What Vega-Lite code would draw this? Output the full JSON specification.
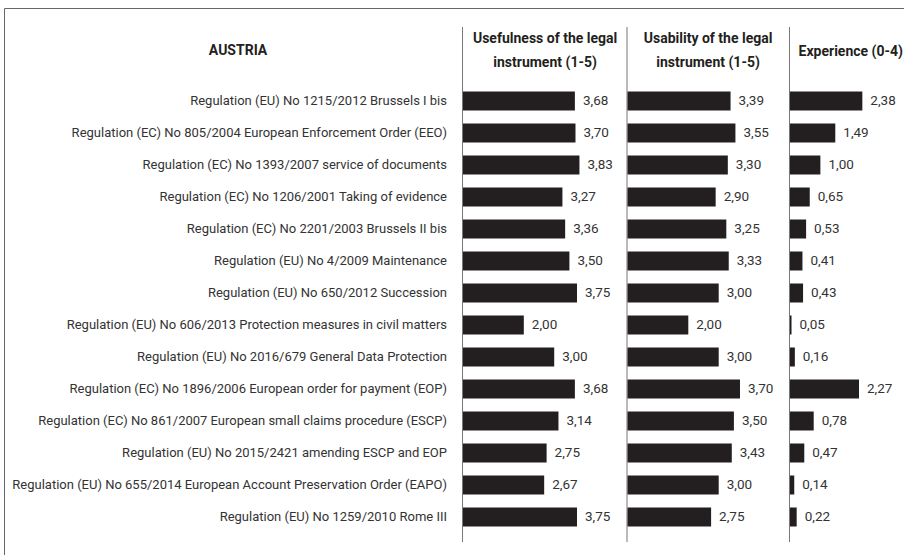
{
  "$schema": "https://vega.github.io/schema/vega-lite/v6.json",
  "autosize": {"type": "none"},
  "width": 912,
  "height": 559,
  "padding": {"left": 4, "top": 8, "right": -12, "bottom": -12},
  "background": "white",
  "config": {
    "view": {"stroke": "#666", "strokeWidth": 1},
    "locale": {"number": {"decimal": ",", "thousands": ".", "grouping": [3], "currency": ["", " €"]}}
  },
  "data": {"values": [
    {"label": "Regulation (EU) No 1215/2012 Brussels I bis", "useful": 3.68, "usable": 3.39, "exp": 2.38},
    {"label": "Regulation (EC) No 805/2004 European Enforcement Order (EEO)", "useful": 3.70, "usable": 3.55, "exp": 1.49},
    {"label": "Regulation (EC) No 1393/2007 service of documents", "useful": 3.83, "usable": 3.30, "exp": 1.00},
    {"label": "Regulation (EC) No 1206/2001 Taking of evidence", "useful": 3.27, "usable": 2.90, "exp": 0.65},
    {"label": "Regulation (EC) No 2201/2003 Brussels II bis", "useful": 3.36, "usable": 3.25, "exp": 0.53},
    {"label": "Regulation (EU) No 4/2009 Maintenance", "useful": 3.50, "usable": 3.33, "exp": 0.41},
    {"label": "Regulation (EU) No 650/2012 Succession", "useful": 3.75, "usable": 3.00, "exp": 0.43},
    {"label": "Regulation (EU) No 606/2013 Protection measures in civil matters", "useful": 2.00, "usable": 2.00, "exp": 0.05},
    {"label": "Regulation (EU) No 2016/679 General Data Protection", "useful": 3.00, "usable": 3.00, "exp": 0.16},
    {"label": "Regulation (EC) No 1896/2006 European order for payment (EOP)", "useful": 3.68, "usable": 3.70, "exp": 2.27},
    {"label": "Regulation (EC) No 861/2007 European small claims procedure (ESCP)", "useful": 3.14, "usable": 3.50, "exp": 0.78},
    {"label": "Regulation (EU) No 2015/2421 amending ESCP and EOP", "useful": 2.75, "usable": 3.43, "exp": 0.47},
    {"label": "Regulation (EU) No 655/2014 European Account Preservation Order (EAPO)", "useful": 2.67, "usable": 3.00, "exp": 0.14},
    {"label": "Regulation (EU) No 1259/2010 Rome III", "useful": 3.75, "usable": 2.75, "exp": 0.22}
  ]},
  "datasets": {"frame": [{"top": 1.048544, "bottom": 0.048544, "left": -0.0329, "right": 0}]},
  "layer": [
    {
      "layer": [
        {
          "data": {"name": "frame"},
          "layer": [
            {"mark": {"type": "rect", "color": "#777"},
             "encoding": {
               "x": {"field": "left", "type": "quantitative"},
               "x2": {"field": "right"},
               "y": {"field": "top", "type": "quantitative", "axis": null, "scale": {"domain": [0, 1.085437], "nice": false, "zero": false}},
               "y2": {"field": "bottom"}
             }},
            {"mark": {"type": "text", "text": ["Usefulness of the legal", "instrument (1-5)"], "font": "Roboto", "fontWeight": "bold", "fontSize": 14, "lineHeight": 24, "align": "center", "baseline": "middle", "color": "#231f20"},
             "encoding": {
               "x": {"datum": 2.7, "type": "quantitative"},
               "y": {"datum": 1.025243, "type": "quantitative", "axis": null, "scale": {"domain": [0, 1.085437], "nice": false, "zero": false}}
             }},
            {"mark": {"type": "text", "text": "AUSTRIA", "font": "Roboto", "fontWeight": "bold", "fontSize": 14, "align": "center", "baseline": "middle", "color": "#231f20"},
             "encoding": {
               "x": {"datum": -7.4, "type": "quantitative"},
               "y": {"datum": 1.001942, "type": "quantitative", "axis": null, "scale": {"domain": [0, 1.085437], "nice": false, "zero": false}}
             }}
          ]
        },
        {
          "layer": [
            {"mark": {"type": "bar", "color": "#231f20"},
             "encoding": {
               "x": {"field": "useful", "type": "quantitative", "axis": null, "scale": {"domain": [-15.099, 14.901], "nice": false, "zero": false}},
               "y": {"field": "label", "type": "nominal", "sort": null, "axis": null, "scale": {"range": [73.9, 528.1], "paddingInner": 0.40625, "paddingOuter": 0.3}}
             }},
            {"mark": {"type": "text", "align": "left", "baseline": "middle", "dx": 8, "font": "Roboto", "fontSize": 13.5, "color": "#333"},
             "encoding": {
               "x": {"field": "useful", "type": "quantitative"},
               "y": {"field": "label", "type": "nominal", "sort": null},
               "text": {"field": "useful", "type": "quantitative", "format": ".2f"}
             }},
            {"mark": {"type": "text", "align": "right", "baseline": "middle", "dx": -16, "font": "Roboto", "fontSize": 13, "color": "#333"},
             "encoding": {
               "x": {"datum": 0, "type": "quantitative"},
               "y": {"field": "label", "type": "nominal", "sort": null},
               "text": {"field": "label", "type": "nominal"}
             }}
          ]
        }
      ],
      "resolve": {"scale": {"y": "independent"}}
    },
    {
      "layer": [
        {
          "data": {"name": "frame"},
          "layer": [
            {"mark": {"type": "rect", "color": "#777"},
             "encoding": {
               "x": {"field": "left", "type": "quantitative"},
               "x2": {"field": "right"},
               "y": {"field": "top", "type": "quantitative", "axis": null, "scale": {"domain": [0, 1.085437], "nice": false, "zero": false}},
               "y2": {"field": "bottom"}
             }},
            {"mark": {"type": "text", "text": ["Usability of the legal", "instrument (1-5)"], "font": "Roboto", "fontWeight": "bold", "fontSize": 14, "lineHeight": 24, "align": "center", "baseline": "middle", "color": "#231f20"},
             "encoding": {
               "x": {"datum": 2.65, "type": "quantitative"},
               "y": {"datum": 1.025243, "type": "quantitative", "axis": null, "scale": {"domain": [0, 1.085437], "nice": false, "zero": false}}
             }}
          ]
        },
        {
          "layer": [
            {"mark": {"type": "bar", "color": "#231f20"},
             "encoding": {
               "x": {"field": "usable", "type": "quantitative", "axis": null, "scale": {"domain": [-20.51, 9.49], "nice": false, "zero": false}},
               "y": {"field": "label", "type": "nominal", "sort": null, "axis": null, "scale": {"range": [73.9, 528.1], "paddingInner": 0.40625, "paddingOuter": 0.3}}
             }},
            {"mark": {"type": "text", "align": "left", "baseline": "middle", "dx": 8, "font": "Roboto", "fontSize": 13.5, "color": "#333"},
             "encoding": {
               "x": {"field": "usable", "type": "quantitative"},
               "y": {"field": "label", "type": "nominal", "sort": null},
               "text": {"field": "usable", "type": "quantitative", "format": ".2f"}
             }}
          ]
        }
      ],
      "resolve": {"scale": {"y": "independent"}}
    },
    {
      "layer": [
        {
          "data": {"name": "frame"},
          "layer": [
            {"mark": {"type": "rect", "color": "#777"},
             "encoding": {
               "x": {"field": "left", "type": "quantitative"},
               "x2": {"field": "right"},
               "y": {"field": "top", "type": "quantitative", "axis": null, "scale": {"domain": [0, 1.085437], "nice": false, "zero": false}},
               "y2": {"field": "bottom"}
             }},
            {"mark": {"type": "text", "text": "Experience (0-4)", "font": "Roboto", "fontWeight": "bold", "fontSize": 14, "align": "center", "baseline": "middle", "color": "#231f20"},
             "encoding": {
               "x": {"datum": 2.0, "type": "quantitative"},
               "y": {"datum": 1.0, "type": "quantitative", "axis": null, "scale": {"domain": [0, 1.085437], "nice": false, "zero": false}}
             }}
          ]
        },
        {
          "layer": [
            {"mark": {"type": "bar", "color": "#231f20"},
             "encoding": {
               "x": {"field": "exp", "type": "quantitative", "axis": null, "scale": {"domain": [-25.855, 4.145], "nice": false, "zero": false}},
               "y": {"field": "label", "type": "nominal", "sort": null, "axis": null, "scale": {"range": [73.9, 528.1], "paddingInner": 0.40625, "paddingOuter": 0.3}}
             }},
            {"mark": {"type": "text", "align": "left", "baseline": "middle", "dx": 8, "font": "Roboto", "fontSize": 13.5, "color": "#333"},
             "encoding": {
               "x": {"field": "exp", "type": "quantitative"},
               "y": {"field": "label", "type": "nominal", "sort": null},
               "text": {"field": "exp", "type": "quantitative", "format": ".2f"}
             }}
          ]
        }
      ],
      "resolve": {"scale": {"y": "independent"}}
    }
  ],
  "resolve": {"scale": {"x": "independent", "y": "independent"}}
}
